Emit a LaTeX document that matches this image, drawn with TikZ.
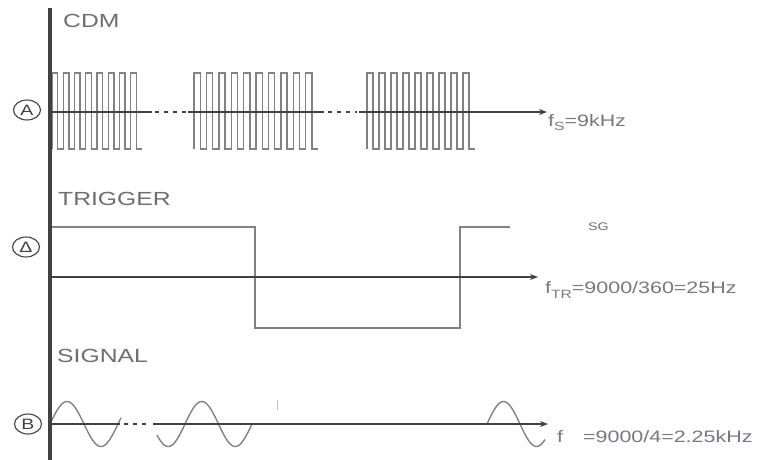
\documentclass[tikz,border=0pt]{standalone}
\usepackage{fontspec}
\setmainfont{Liberation Sans}[FakeStretch=1.3]
\usetikzlibrary{arrows.meta,shapes.geometric}
\definecolor{axisgray}{RGB}{65,65,65}
\definecolor{wavegray}{RGB}{130,130,130}
\definecolor{textgray}{RGB}{110,110,110}
\definecolor{freqgray}{RGB}{120,120,130}
\begin{document}
\begin{tikzpicture}[x=1pt,y=-1pt,
		axis/.style={draw=axisgray, line width=2.6pt},
		timeaxis/.style={axis, -{Stealth[length=8pt,width=6pt]}},
		gap/.style={axis, dash pattern=on 4pt off 5pt},
		wave/.style={draw=wavegray, line width=1.4pt},
		title/.style={anchor=base west, inner sep=0pt, text=textgray, font=\fontsize{19}{19}\selectfont},
		freq/.style={anchor=base west, inner sep=0pt, text=freqgray, font=\fontsize{16.5}{16.5}\selectfont},
		marker/.style={ellipse, draw=axisgray, line width=1.1pt, minimum width=27pt, minimum height=20pt, inner sep=0pt, text=axisgray, font=\fontsize{15}{15}\selectfont}]
		\useasboundingbox [fill=white] (0,0) rectangle (757,460);
		% titles and markers
		\node [title] (cdm) at ( 63, 28 ) {CDM};
		\node [title] (trigger) at ( 58, 205 ) {TRIGGER};
		\node [title] (signal) at ( 57, 362 ) {SIGNAL};
		\node [marker] (markA) at ( 27, 110 ) {A};
		\node [marker] (markD) at ( 26, 247 ) {Δ};
		\node [marker] (markB) at ( 28, 424 ) {B};
		% CDM bursts
		\foreach \xs/\n/\p in {52/8/11.25, 194/10/12.4, 367/9/12} {
			\draw [wave] ( \xs, 149 ) foreach \i in {1,...,\n} { -- ++( 0, -76 ) -- ++( \p/2, 0 ) -- ++( 0, 76 ) -- ++( \p/2, 0 ) };
		}
		% trigger
		\draw [wave] ( 50, 227 ) -- ( 255, 227 ) -- ( 255, 328 ) -- ( 460, 328 ) -- ( 460, 227 ) -- ( 510, 227 );
		% signal
		\draw [wave] plot [domain=50:121, samples=60] ( \x, {424 - 22.5*sin(180*(\x-50)/34)} );
		\draw [wave] plot [domain=157:252, samples=70] ( \x, {424 - 22.5*sin(180*(\x-185)/33.5)} );
		\draw [wave] plot [domain=487:545, samples=50] ( \x, {424 - 22.5*sin(180*(\x-487)/33)} );
		\draw [draw=wavegray!50, line width=0.8pt] ( 277, 400 ) -- ( 277, 410 );
		% axes
		\coordinate (top) at ( 50, 8 );
		\coordinate (bottom) at ( 50, 460 );
		\draw [axis, line width=3.4pt] (top) -- (bottom);
		\draw [axis] ( 50, 112 ) -- ( 152, 112 );
		\draw [gap] ( 155, 112 ) -- ( 186, 112 );
		\draw [axis] ( 188, 112 ) -- ( 324, 112 );
		\draw [gap] ( 328, 112 ) -- ( 357, 112 );
		\draw [timeaxis] ( 359, 112 ) -- ( 547, 112 );
		\draw [timeaxis] ( 50, 277 ) -- ( 538, 277 );
		\draw [axis] ( 50, 424 ) -- ( 120, 424 );
		\draw [gap] ( 124, 424 ) -- ( 150, 424 );
		\draw [timeaxis] ( 153, 424 ) -- ( 548, 424 );
		% frequencies
		\node [freq] (fs) at ( 548, 126 ) {f\raisebox{-4pt}{\fontsize{12}{12}\selectfont S}=9kHz};
		\node [freq] (ftr) at ( 545, 293 ) {f\raisebox{-5pt}{\fontsize{12}{12}\selectfont TR}=9000/360=25Hz};
		\node [freq] (fsig) at ( 557, 442 ) {f\hspace{20pt}=9000/4=2.25kHz};
		\node [anchor=base west, inner sep=0pt, text=textgray, font=\fontsize{11}{11}\selectfont] (sg) at ( 588, 230 ) {SG};
	\end{tikzpicture}
\end{document}
